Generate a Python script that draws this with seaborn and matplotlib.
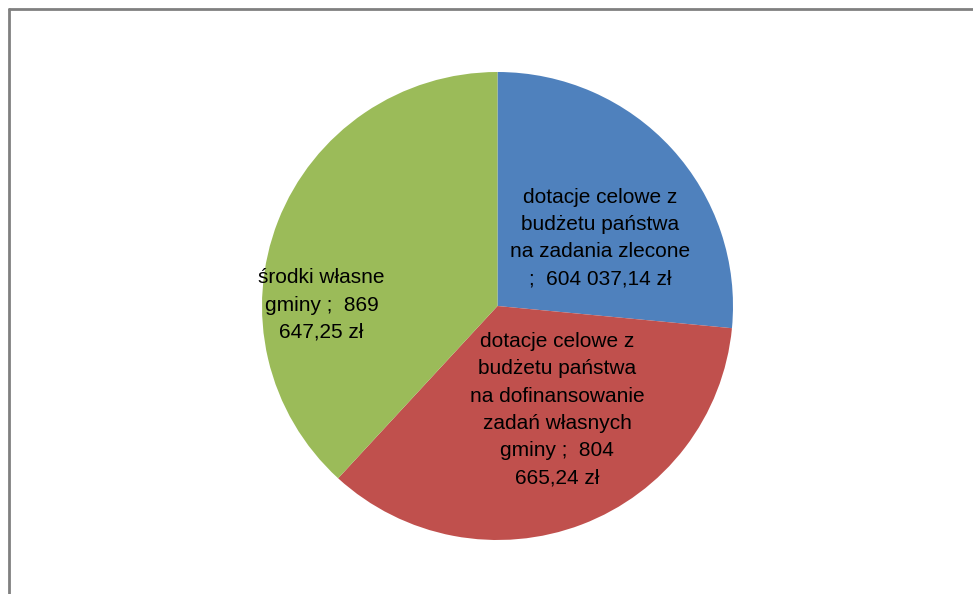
import matplotlib.pyplot as plt
import seaborn as sns
from matplotlib.lines import Line2D

# data
labels = [
    "dotacje celowe z\nbudżetu państwa\nna zadania zlecone\n;  604 037,14 zł",
    "dotacje celowe z\nbudżetu państwa\nna dofinansowanie\nzadań własnych\ngminy ;  804\n665,24 zł",
    "środki własne\ngminy ;  869\n647,25 zł",
]
values = [604037.14, 804665.24, 869647.25]
colors = ["#4F81BD", "#C0504D", "#9BBB59"]
# label centres in pie-radius units
label_pos = [(0.436, 0.289), (0.253, -0.443), (-0.747, 0.004)]

sns.set_theme(style="white")
plt.rcParams["font.family"] = ["Liberation Sans", "DejaVu Sans"]

fig = plt.figure(figsize=(9.73, 5.94), dpi=100)
W, H = 973, 594
ax = fig.add_axes([262 / W, (H - 540) / H, 471 / W, 468 / H])
ax.pie(values, colors=colors, startangle=90, counterclock=False,
       radius=1, wedgeprops=dict(linewidth=0))
ax.set_xlim(-1, 1)
ax.set_ylim(-1, 1)
ax.set_aspect("auto")
ax.axis("off")

for txt, (x, y) in zip(labels, label_pos):
    ax.text(x, y, txt, ha="center", va="center", fontsize=15,
            color="black", linespacing=1.55)

# chart area border (clipped at right and bottom like the reference)
fig.add_artist(Line2D([9 / W, 1], [1 - 9 / H, 1 - 9 / H], color="#808080", lw=2))
fig.add_artist(Line2D([9 / W, 9 / W], [0, 1 - 9 / H], color="#808080", lw=2))

fig.savefig("out.png", dpi=100, facecolor="white")
